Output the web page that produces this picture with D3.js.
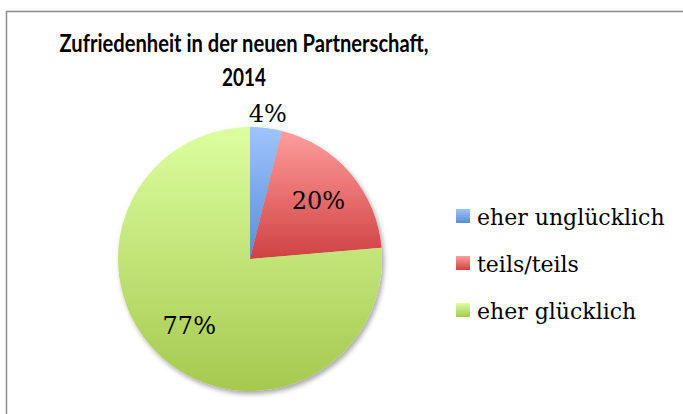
<!DOCTYPE html>
<html><head><meta charset="utf-8">
<script src="https://cdn.jsdelivr.net/npm/d3@7"></script>
<style>
html,body{margin:0;padding:0;background:#fff;}
svg{display:block;}
</style></head>
<body>
<svg id="chart" width="683" height="414"></svg>
<script>
const titleLines = ["Zufriedenheit in der neuen Partnerschaft,", "2014"];
const categories = ["eher unglücklich", "teils/teils", "eher glücklich"];
const values = [3.9, 19.8, 76.5];
const labels = ["4%", "20%", "77%"];
const colorTop = ["#9ec4fd", "#ff9d9d", "#ddfe9f"];
const colorBottom = ["#5a8dd6", "#d04141", "#a5c94f"];

const svg = d3.select("#chart");
const defs = svg.append("defs");

categories.forEach((c, i) => {
  const g = defs.append("linearGradient").attr("id", "grad" + i)
    .attr("x1", 0).attr("y1", 0).attr("x2", 0).attr("y2", 1);
  g.append("stop").attr("offset", "0%").attr("stop-color", colorTop[i]);
  g.append("stop").attr("offset", "100%").attr("stop-color", colorBottom[i]);
});

const f = defs.append("filter").attr("id", "shadow")
  .attr("x", "-20%").attr("y", "-20%").attr("width", "140%").attr("height", "140%");
f.append("feDropShadow").attr("dx", 2).attr("dy", 3).attr("stdDeviation", 2.5)
  .attr("flood-color", "#000").attr("flood-opacity", 0.35);

// frame
svg.append("rect").attr("x", 6.5).attr("y", 11.5).attr("width", 700).attr("height", 420)
  .attr("fill", "#fff").attr("stroke", "#8a8a8a").attr("stroke-width", 1.5);

// title
const tl = svg.append("g").selectAll("text").data(titleLines).join("text")
  .attr("x", 244).attr("y", (d, i) => 52 + i * 34)
  .attr("text-anchor", "middle")
  .attr("font-family", "Lato, 'Open Sans', sans-serif")
  .attr("font-weight", "bold").attr("font-size", 25).attr("fill", "#000")
  .text(d => d);
tl.filter((d, i) => i === 0).attr("textLength", 369).attr("lengthAdjust", "spacingAndGlyphs");
tl.filter((d, i) => i === 1).attr("textLength", 44).attr("lengthAdjust", "spacingAndGlyphs");

const cx = 250, cy = 259, R = 132;
const pie = d3.pie().sort(null).value(d => d);
const arcs = pie(values);
const arc = d3.arc().innerRadius(0).outerRadius(R);

const pg = svg.append("g").attr("transform", `translate(${cx},${cy})`);
pg.append("g").attr("filter", "url(#shadow)").selectAll("path").data(arcs).join("path")
  .attr("d", arc)
  .attr("fill", (d, i) => `url(#grad${i})`);

const inArc = d3.arc().innerRadius(0).outerRadius(R * 1.36);
const outArc = d3.arc().innerRadius(R * 1.11).outerRadius(R * 1.11);
pg.append("g").selectAll("text").data(arcs).join("text")
  .attr("transform", d => {
    const small = (d.endAngle - d.startAngle) < 0.1 * 2 * Math.PI;
    const p = small ? outArc.centroid(d) : inArc.centroid(d);
    return `translate(${p[0]},${p[1]})`;
  })
  .attr("text-anchor", "middle").attr("dy", "0.35em")
  .attr("font-family", "'DejaVu Serif', serif").attr("font-size", 24).attr("fill", "#000")
  .text((d, i) => labels[i]);

// legend
const lg = svg.append("g").attr("transform", "translate(456,209)");
const rows = lg.selectAll("g").data(categories).join("g")
  .attr("transform", (d, i) => `translate(0,${i * 47})`);
rows.append("rect").attr("width", 14).attr("height", 14)
  .attr("fill", (d, i) => `url(#grad${i})`);
rows.append("text").attr("x", 21).attr("y", 16)
  .attr("font-family", "'DejaVu Serif', serif").attr("font-size", 22).attr("fill", "#000")
  .text(d => d);
</script>
</body></html>
